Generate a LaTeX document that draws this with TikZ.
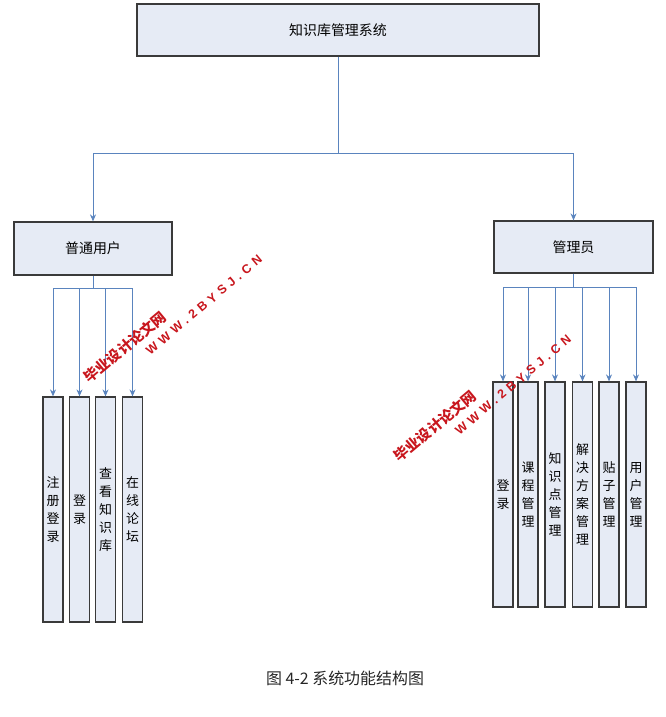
\documentclass[tikz,border=0pt]{standalone}
\usepackage{fontspec}
\usetikzlibrary{arrows.meta}
\setmainfont{Noto Sans CJK SC}
\newfontfamily\wmlatin[LetterSpace=35]{Liberation Sans}
\definecolor{boxfill}{HTML}{E6EBF5}
\definecolor{boxline}{HTML}{3A3A3A}
\definecolor{linkblue}{HTML}{5A84BE}
\definecolor{wmred}{HTML}{C8161D}
\tikzset{
  box/.style={draw=boxline,fill=boxfill,line width=1.2bp,inner sep=0pt},
  leaf/.style={box,minimum width=20bp,minimum height=225bp,align=center,font=\fontsize{13}{18}\selectfont},
  link/.style={draw=linkblue,line width=1bp},
  wmark/.style={text=wmred,inner sep=0pt,rotate=40}
}
\begin{document}
\begin{tikzpicture}[x=1bp,y=-1bp,>={Stealth[length=7bp,width=6bp]}]
 \useasboundingbox (0,0) rectangle (666,717);
 \node[box,minimum width=402bp,minimum height=52bp,font=\fontsize{14}{16}\selectfont] (sys) at (338,30) {知识库管理系统};
 \node[box,minimum width=158bp,minimum height=53bp,font=\fontsize{14}{16}\selectfont] (user) at (93,248.5) {普通用户};
 \node[box,minimum width=159bp,minimum height=52bp,font=\fontsize{14}{16}\selectfont] (admin) at (573.5,247) {管理员};
 \coordinate (split) at (338,153);
 \draw[link] (sys.south) -- (split);
 \draw[link,->] (split) -| (user.north);
 \draw[link,->] (split) -| (admin.north);
 % 普通用户
 \coordinate (ubus) at (93,288);
 \draw[link] (user.south) -- (ubus);
 \foreach \x/\t [count=\i] in {53/{注\\册\\登\\录},79.5/{登\\录},105.5/{查\\看\\知\\识\\库},132.5/{在\\线\\论\\坛}}{
  \node[leaf] (u\i) at (\x,509.5) {\t};
  \draw[link,->] (ubus) -| (u\i.north);
 }
 % 管理员
 \coordinate (abus) at (573.5,287);
 \draw[link] (admin.south) -- (abus);
 \foreach \x/\t [count=\i] in {503/{登\\录},528/{课\\程\\管\\理},555/{知\\识\\点\\管\\理},582.5/{解\\决\\方\\案\\管\\理},609/{贴\\子\\管\\理},636/{用\\户\\管\\理}}{
  \node[leaf] (a\i) at (\x,494.5) {\t};
  \draw[link,->] (abus) -| (a\i.north);
 }
 \node[wmark,font=\bfseries\fontsize{14.5}{16}\selectfont] (wm1) at (125,347) {毕业设计论文网};
 \node[wmark,font=\wmlatin\bfseries\fontsize{12.5}{14}\selectfont] (wm2) at (204,305) {WWW.2BYSJ.CN};
 \node[wmark,font=\bfseries\fontsize{14.5}{16}\selectfont] (wm3) at (435,426) {毕业设计论文网};
 \node[wmark,font=\wmlatin\bfseries\fontsize{12.5}{14}\selectfont] (wm4) at (513,385) {WWW.2BYSJ.CN};
 \node[font=\fontsize{16}{18}\selectfont,text=black!85] (cap) at (345,678) {图 4-2 系统功能结构图};
\end{tikzpicture}
\end{document}
